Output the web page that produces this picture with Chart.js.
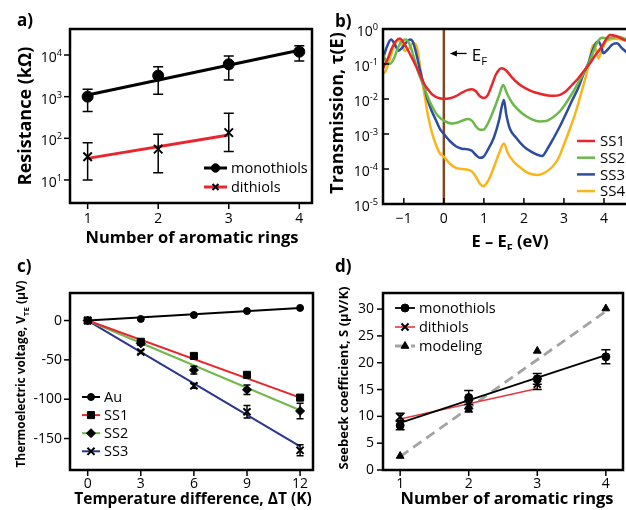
<!DOCTYPE html>
<html>
<head>
<meta charset="utf-8">
<script src="https://cdn.jsdelivr.net/npm/chart.js@4.4.1/dist/chart.umd.min.js"></script>
<style>
  html, body { margin: 0; padding: 0; background: #fff; }
  body { width: 626px; height: 510px; position: relative; overflow: hidden; }
  canvas { position: absolute; }
</style>
</head>
<body>
<canvas id="chartA" width="320" height="250" style="left:0;top:0"></canvas>
<canvas id="chartB" width="310" height="250" style="left:320px;top:0"></canvas>
<canvas id="chartC" width="320" height="260" style="left:0;top:250px"></canvas>
<canvas id="chartD" width="310" height="260" style="left:320px;top:250px"></canvas>
<script>
// ---- panel a: resistance vs number of aromatic rings ----
const ringsA = [1, 2, 3, 4];
const monoRes = [1000, 3200, 6000, 12000];
const monoResLo = [440, 1150, 2500, 7200];
const monoResHi = [1500, 5200, 9500, 16700];
const monoResFitX = [1, 4];
const monoResFit = [1100, 13000];
const diRingsA = [1, 2, 3];
const diRes = [36, 55, 137];
const diResLo = [10, 15, 48];
const diResHi = [78, 126, 400];
const diResFitX = [1, 3];
const diResFit = [33, 120];
const resTicks = [10, 100, 1000, 10000];

// ---- panel b: transmission curves (log10 of tau) ----
const ss1E = [-1.52,-1.4,-1.3,-1.2,-1.1,-1.0,-0.9,-0.8,-0.7,-0.6,-0.5,-0.4,-0.3,-0.2,-0.1,0,0.15,0.3,0.45,0.6,0.7,0.8,0.9,1.0,1.1,1.2,1.3,1.44,1.55,1.7,1.85,2.0,2.2,2.4,2.6,2.75,2.9,3.05,3.2,3.35,3.5,3.65,3.8,3.95,4.05,4.15,4.3,4.45,4.6];
const ss1Log = [-1.12,-0.85,-0.55,-0.35,-0.27,-0.4,-0.6,-0.82,-1.05,-1.3,-1.55,-1.72,-1.86,-1.94,-1.98,-2.0,-1.98,-1.92,-1.82,-1.74,-1.72,-1.78,-1.92,-1.97,-1.88,-1.6,-1.3,-1.12,-1.18,-1.38,-1.55,-1.67,-1.78,-1.85,-1.9,-1.91,-1.88,-1.78,-1.6,-1.42,-1.2,-0.98,-0.72,-0.5,-0.3,-0.17,-0.2,-0.28,-0.35];
const ss2E = [-1.52,-1.45,-1.35,-1.25,-1.15,-1.05,-0.95,-0.85,-0.75,-0.65,-0.55,-0.45,-0.35,-0.25,-0.15,-0.05,0.05,0.2,0.35,0.5,0.6,0.7,0.8,0.9,0.98,1.1,1.25,1.38,1.48,1.58,1.7,1.85,2.0,2.2,2.4,2.55,2.75,2.9,3.05,3.2,3.35,3.5,3.65,3.75,3.85,3.95,4.1,4.2,4.35,4.5,4.6];
const ss2Log = [-0.72,-0.9,-1.0,-0.85,-0.55,-0.35,-0.3,-0.45,-0.8,-1.2,-1.5,-1.8,-2.08,-2.3,-2.48,-2.58,-2.65,-2.7,-2.67,-2.6,-2.57,-2.62,-2.78,-2.88,-2.88,-2.7,-2.3,-1.9,-1.6,-1.85,-2.1,-2.3,-2.45,-2.58,-2.64,-2.63,-2.5,-2.35,-2.12,-1.85,-1.55,-1.24,-0.9,-0.6,-0.35,-0.25,-0.27,-0.24,-0.22,-0.27,-0.32];
const ss3E = [-1.52,-1.42,-1.32,-1.22,-1.14,-1.05,-0.95,-0.85,-0.78,-0.7,-0.6,-0.5,-0.4,-0.3,-0.2,-0.1,0,0.15,0.3,0.45,0.6,0.7,0.8,0.9,0.98,1.1,1.25,1.38,1.45,1.5,1.56,1.65,1.8,2.0,2.2,2.35,2.45,2.6,2.75,2.9,3.05,3.2,3.35,3.5,3.62,3.72,3.8,3.86,3.93,3.98,4.08,4.2,4.32,4.45,4.6];
const ss3Log = [-0.84,-0.5,-0.3,-0.45,-0.62,-0.55,-0.4,-0.3,-0.35,-0.65,-1.15,-1.6,-2.05,-2.35,-2.6,-2.85,-3.0,-3.2,-3.35,-3.42,-3.44,-3.48,-3.6,-3.68,-3.66,-3.45,-3.1,-2.6,-2.2,-2.03,-2.45,-2.85,-3.1,-3.36,-3.52,-3.6,-3.63,-3.4,-3.1,-2.78,-2.42,-2.05,-1.7,-1.25,-0.95,-0.6,-0.4,-0.36,-0.5,-0.69,-0.6,-0.45,-0.41,-0.55,-0.7];
const ss4E = [-1.52,-1.45,-1.35,-1.25,-1.14,-1.05,-0.97,-0.87,-0.78,-0.7,-0.64,-0.58,-0.5,-0.4,-0.3,-0.2,-0.1,0,0.15,0.3,0.45,0.6,0.7,0.8,0.9,0.98,1.1,1.25,1.38,1.5,1.6,1.75,1.9,2.05,2.2,2.35,2.5,2.7,2.86,3.0,3.15,3.3,3.45,3.57,3.65,3.73,3.8,3.86,3.95,4.05,4.15,4.3,4.45,4.6];
const ss4Log = [-1.27,-1.2,-0.85,-0.5,-0.31,-0.45,-0.63,-0.55,-0.4,-0.45,-0.7,-1.2,-1.75,-2.45,-2.95,-3.3,-3.55,-3.65,-3.85,-3.97,-4.0,-4.02,-4.07,-4.22,-4.42,-4.49,-4.35,-3.95,-3.55,-3.27,-3.55,-3.8,-3.95,-4.08,-4.15,-4.17,-4.12,-3.95,-3.7,-3.3,-2.85,-2.35,-1.75,-1.25,-0.8,-0.46,-0.6,-0.84,-0.6,-0.35,-0.3,-0.28,-0.3,-0.35];
const energyTicks = [-1, 0, 1, 2, 3, 4];
const transTicks = [1e-5, 1e-4, 1e-3, 1e-2, 1e-1, 1];
const fermiLineE = [0, 0];
const fermiLineT = [1e-5, 1];

// ---- panel c: thermoelectric voltage vs temperature difference ----
const dT = [0, 3, 6, 9, 12];
const vAu = [0, 2, 7, 12, 16];
const vSS1 = [0, -27, -45, -69, -98];
const vSS2 = [0, -29, -63, -88, -115];
const vSS3 = [0, -40, -83, -116, -165];
const errSS1 = [0, 2, 2, 2, 3];
const errSS2 = [0, 2, 5, 6, 10];
const errSS3 = [0, 2, 3, 8, 7];
const fitX = [0, 12];
const fitAu = [0, 16];
const fitSS1 = [0, -98];
const fitSS2 = [0, -114];
const fitSS3 = [0, -160];
const dTTicks = [0, 3, 6, 9, 12];
const voltTicks = [-150, -100, -50, 0];

// ---- panel d: Seebeck coefficient vs number of aromatic rings ----
const ringsD = [1, 2, 3, 4];
const seebMono = [8.3, 13.5, 17.0, 21.1];
const seebMonoErr = [0.8, 1.3, 1.0, 1.3];
const seebMonoFit = [8.8, 21.4];
const diRingsD = [1, 2, 3];
const seebDi = [9.9, 12.2, 16.0];
const seebDiErr = [0.7, 0.8, 1.0];
const seebDiFitX = [1, 3];
const seebDiFit = [9.5, 15.2];
const seebModel = [2.6, 11.2, 22.2, 30.1];
const seebModelFit = [2.5, 29.6];
const ringFitX = [1, 4];
const seebTicks = [0, 5, 10, 15, 20, 25, 30];

const FONT = "'Open Sans', sans-serif";
Chart.defaults.font.family = FONT;
Chart.defaults.color = '#000';
Chart.defaults.animation = false;

const pts = (xs, ys) => xs.map((x, i) => ({ x: x, y: ys[i] }));
const pow10 = arr => arr.map(v => Math.pow(10, v));

// text with sub/superscripts, drawn on the canvas
function drawRich(ctx, parts, x, y, size, weight, align, rot) {
  ctx.save();
  ctx.translate(x, y);
  if (rot) ctx.rotate(rot);
  const segs = parts.map(p => {
    const t = typeof p === 'string' ? p : p[0];
    const mode = typeof p === 'string' ? '' : p[1];
    const s = mode ? size * 0.66 : size;
    ctx.font = weight + ' ' + s + 'px ' + FONT;
    return { t: t, mode: mode, s: s, w: ctx.measureText(t).width };
  });
  const total = segs.reduce((a, g) => a + g.w, 0);
  let cx = align === 'left' ? 0 : align === 'right' ? -total : -total / 2;
  ctx.fillStyle = '#000';
  ctx.textAlign = 'left';
  ctx.textBaseline = 'alphabetic';
  segs.forEach(g => {
    ctx.font = weight + ' ' + g.s + 'px ' + FONT;
    const dy = g.mode === 'sub' ? size * 0.28 : g.mode === 'sup' ? -size * 0.42 : 0;
    ctx.fillText(g.t, cx, size * 0.36 + dy);
    cx += g.w;
  });
  ctx.restore();
}

// frame, ticks, error bars, legends and labels
const deco = {
  id: 'deco',
  afterDatasetsDraw(chart, args, o) {
    const ctx = chart.ctx, ca = chart.chartArea;
    const xs = chart.scales.x, ys = chart.scales.y;
    ctx.save();

    // error bars
    chart.data.datasets.forEach(ds => {
      if (!ds.errLo && !ds.err) return;
      ctx.strokeStyle = '#000';
      ctx.lineWidth = 1.5;
      ds.data.forEach((p, i) => {
        const lo = ds.errLo ? ds.errLo[i] : p.y - ds.err[i];
        const hi = ds.errHi ? ds.errHi[i] : p.y + ds.err[i];
        if (lo === hi) return;
        const px = xs.getPixelForValue(p.x);
        const y1 = ys.getPixelForValue(lo), y2 = ys.getPixelForValue(hi);
        const c = ds.capHalf || 4;
        ctx.beginPath();
        ctx.moveTo(px, y1); ctx.lineTo(px, y2);
        ctx.moveTo(px - c, y1); ctx.lineTo(px + c, y1);
        ctx.moveTo(px - c, y2); ctx.lineTo(px + c, y2);
        ctx.stroke();
      });
    });

    // frame
    ctx.strokeStyle = '#000';
    ctx.lineWidth = 2.5;
    ctx.strokeRect(ca.left, ca.top, ca.width, ca.height);

    // tick marks
    const dir = o.tickDir === 'in' ? -1 : 1;
    ctx.lineWidth = 1.5;
    xs.ticks.forEach(t => {
      const px = xs.getPixelForValue(t.value);
      ctx.beginPath(); ctx.moveTo(px, ca.bottom); ctx.lineTo(px, ca.bottom + dir * 6); ctx.stroke();
    });
    ys.ticks.forEach(t => {
      const py = ys.getPixelForValue(t.value);
      ctx.beginPath(); ctx.moveTo(ca.left, py); ctx.lineTo(ca.left - dir * 6, py); ctx.stroke();
    });

    // decade labels on log axes
    if (o.logY) {
      ys.ticks.forEach(t => {
        const py = ys.getPixelForValue(t.value);
        const ex = String(Math.round(Math.log10(t.value)));
        drawRich(ctx, ['10', [ex, 'sup']], ca.left - o.logPad, py + 2, 14, 'normal', 'right');
      });
    }

    // legend
    if (o.legend) {
      const L = o.legend;
      L.items.forEach((it, k) => {
        const yy = L.y + k * L.dy;
        const lds = chart.data.datasets[it[0]];
        const mds = it[1] != null ? chart.data.datasets[it[1]] : null;
        ctx.strokeStyle = lds.borderColor;
        ctx.lineWidth = lds.borderWidth;
        ctx.setLineDash(lds.borderDash || []);
        ctx.beginPath(); ctx.moveTo(L.x, yy); ctx.lineTo(L.x + L.len, yy); ctx.stroke();
        ctx.setLineDash([]);
        if (mds) {
          ctx.fillStyle = mds.backgroundColor;
          ctx.strokeStyle = mds.borderColor;
          ctx.lineWidth = mds.borderWidth;
          Chart.helpers.drawPoint(ctx, { pointStyle: mds.pointStyle, radius: L.mr || mds.pointRadius, borderWidth: mds.borderWidth, rotation: 0 }, L.x + L.len / 2, yy);
        }
        ctx.fillStyle = '#000';
        ctx.font = L.size + 'px ' + FONT;
        ctx.textAlign = 'left';
        ctx.textBaseline = 'middle';
        ctx.fillText((mds || lds).label, L.x + L.len + L.gap, yy + 1);
      });
    }

    // arrow note (E_F)
    if (o.note) {
      const n = o.note;
      const x1 = xs.getPixelForValue(n.x1), x2 = xs.getPixelForValue(n.x2), py = ys.getPixelForValue(n.y);
      ctx.strokeStyle = '#000'; ctx.fillStyle = '#000'; ctx.lineWidth = 1.3;
      ctx.beginPath(); ctx.moveTo(x1, py); ctx.lineTo(x2 + 4, py); ctx.stroke();
      ctx.beginPath(); ctx.moveTo(x2, py); ctx.lineTo(x2 + 7, py - 3); ctx.lineTo(x2 + 7, py + 3); ctx.closePath(); ctx.fill();
      drawRich(ctx, n.parts, xs.getPixelForValue(n.tx), py + 1, 17, 'normal', 'left');
    }

    // titles and panel letter
    (o.titles || []).forEach(t => drawRich(ctx, t.parts, t.x, t.y, t.size, t.weight || 'bold', t.align || 'center', t.rot));
    ctx.restore();
  }
};

function scaleCfg(type, min, max, tickValues, fitSize, horizontal, pad, showTicks) {
  return {
    type: type, min: min, max: max,
    afterBuildTicks: s => { s.ticks = tickValues.map(v => ({ value: v })); },
    afterFit: s => { if (horizontal) s.height = fitSize; else s.width = fitSize; },
    grid: { display: false, drawTicks: false },
    border: { display: false },
    ticks: { display: showTicks !== false, autoSkip: false, maxRotation: 0, font: { size: 14 }, padding: pad, color: '#000' }
  };
}

function fitLine(xs, ys, color, width, dash) {
  return { data: pts(xs, ys), showLine: true, borderColor: color, borderWidth: width, borderDash: dash || [],
    pointRadius: 0, pointHoverRadius: 0, order: 2 };
}

function markers(label, xs, ys, style, radius, extra) {
  return Object.assign({ label: label, data: pts(xs, ys), showLine: false, pointStyle: style,
    pointRadius: radius, pointHoverRadius: radius, backgroundColor: '#000', borderColor: '#000',
    borderWidth: style.indexOf('cross') === 0 ? 2 : 1, order: 1 }, extra);
}

function baseOptions(padding, decoOpts, scales) {
  return {
    responsive: false,
    events: [],
    layout: { padding: padding },
    plugins: { legend: { display: false }, tooltip: { enabled: false }, deco: decoOpts },
    scales: scales
  };
}

const RED = '#e8262b', GREEN = '#6cb84a', BLUE = '#2d4c9f', YELLOW = '#f8b51c';

// panel a
new Chart(document.getElementById('chartA'), {
  type: 'scatter',
  data: { datasets: [
    markers('monothiols', ringsA, monoRes, 'circle', 5.5, { errLo: monoResLo, errHi: monoResHi, capHalf: 5 }),
    markers('dithiols', diRingsA, diRes, 'crossRot', 6, { errLo: diResLo, errHi: diResHi, capHalf: 5 }),
    fitLine(monoResFitX, monoResFit, '#000', 3),
    fitLine(diResFitX, diResFit, RED, 3)
  ] },
  options: baseOptions({ top: 29, right: 7, left: 0, bottom: 0 }, {
    tickDir: 'out', logY: true, logPad: 8,
    legend: { x: 204, y: 168, dy: 19, len: 23, gap: 4, size: 14.5, mr: 4.2, items: [[2, 0], [3, 1]] },
    titles: [
      { parts: ['a)'], x: 17, y: 20, size: 17, align: 'left' },
      { parts: ['Number of aromatic rings'], x: 192, y: 237, size: 16.5 },
      { parts: ['Resistance (kΩ)'], x: 25, y: 116, size: 18, rot: -Math.PI / 2 }
    ]
  }, {
    x: scaleCfg('linear', 0.75, 4.18, ringsA, 47, true, 8),
    y: scaleCfg('logarithmic', 2.8, 42100, resTicks, 70, false, 7, false)
  }),
  plugins: [deco]
});

// panel b
new Chart(document.getElementById('chartB'), {
  type: 'scatter',
  data: { datasets: [
    { label: 'SS1', data: pts(ss1E, pow10(ss1Log)), showLine: true, borderColor: RED, borderWidth: 2.5, pointRadius: 0, cubicInterpolationMode: 'monotone' },
    { label: 'SS2', data: pts(ss2E, pow10(ss2Log)), showLine: true, borderColor: GREEN, borderWidth: 2.5, pointRadius: 0, cubicInterpolationMode: 'monotone' },
    { label: 'SS3', data: pts(ss3E, pow10(ss3Log)), showLine: true, borderColor: BLUE, borderWidth: 2.5, pointRadius: 0, cubicInterpolationMode: 'monotone' },
    { label: 'SS4', data: pts(ss4E, pow10(ss4Log)), showLine: true, borderColor: YELLOW, borderWidth: 2.5, pointRadius: 0, cubicInterpolationMode: 'monotone' },
    { label: 'EF', data: pts(fermiLineE, fermiLineT), showLine: true, borderColor: '#7a4a22', borderWidth: 2.5, pointRadius: 0 }
  ] },
  options: baseOptions({ top: 29, right: 2, left: 0, bottom: 0 }, {
    tickDir: 'in', logY: true, logPad: 5,
    legend: { x: 257, y: 141, dy: 16.7, len: 18, gap: 5, size: 15, items: [[0], [1], [2], [3]] },
    note: { x1: 0.57, x2: 0.15, y: 0.2, tx: 0.7, parts: ['E', ['F', 'sub']] },
    titles: [
      { parts: ['b)'], x: 15, y: 21, size: 17, align: 'left' },
      { parts: ['E – E', ['F', 'sub'], ' (eV)'], x: 190, y: 241, size: 16.5 },
      { parts: ['Transmission, τ(E)'], x: 17, y: 113, size: 18, rot: -Math.PI / 2 }
    ]
  }, {
    x: Object.assign(scaleCfg('linear', -1.52, 4.6, energyTicks, 46, true, 7),
      { ticks: { autoSkip: false, maxRotation: 0, font: { size: 14 }, padding: 7, color: '#000',
        callback: v => String(v).replace('-', '\u2212') } }),
    y: scaleCfg('logarithmic', 1e-5, 1, transTicks, 63, false, 5, false)
  }),
  plugins: [deco]
});

// panel c
new Chart(document.getElementById('chartC'), {
  type: 'scatter',
  data: { datasets: [
    markers('Au', dT, vAu, 'circle', 3.5),
    markers('SS1', dT, vSS1, 'rect', 5, { err: errSS1, capHalf: 3.5 }),
    markers('SS2', dT, vSS2, 'rectRot', 4.5, { err: errSS2, capHalf: 3.5 }),
    markers('SS3', dT, vSS3, 'crossRot', 5, { err: errSS3, capHalf: 3.5 }),
    fitLine(fitX, fitAu, '#000', 2),
    fitLine(fitX, fitSS1, RED, 2),
    fitLine(fitX, fitSS2, '#72b84b', 2),
    fitLine(fitX, fitSS3, '#2b3590', 2)
  ] },
  options: baseOptions({ top: 43, right: 7, left: 0, bottom: 0 }, {
    tickDir: 'out',
    legend: { x: 82, y: 147, dy: 18.1, len: 18, gap: 4, size: 14.5, items: [[4, 0], [5, 1], [6, 2], [7, 3]] },
    titles: [
      { parts: ['c)'], x: 17, y: 16, size: 17, align: 'left' },
      { parts: ['Temperature difference, ΔT (K)'], x: 193, y: 248, size: 15.5 },
      { parts: ['Thermoelectric voltage, V', ['TE', 'sub'], ' (μV)'], x: 21, y: 124, size: 11.9, rot: -Math.PI / 2 }
    ]
  }, {
    x: scaleCfg('linear', -1, 12.73, dTTicks, 40, true, 6),
    y: scaleCfg('linear', -190, 35, voltTicks, 70, false, 8)
  }),
  plugins: [deco]
});

// panel d
new Chart(document.getElementById('chartD'), {
  type: 'scatter',
  data: { datasets: [
    markers('monothiols', ringsD, seebMono, 'circle', 4, { err: seebMonoErr, capHalf: 4.5 }),
    markers('dithiols', diRingsD, seebDi, 'crossRot', 5, { err: seebDiErr, capHalf: 4.5 }),
    markers('modeling', ringsD, seebModel, 'triangle', 4.5),
    fitLine(ringFitX, seebMonoFit, '#000', 1.8),
    fitLine(seebDiFitX, seebDiFit, '#e8383d', 1.6),
    fitLine(ringFitX, seebModelFit, '#a3a3a3', 2.8, [10, 6])
  ] },
  options: baseOptions({ top: 43, right: 2, left: 0, bottom: 0 }, {
    tickDir: 'out',
    legend: { x: 75, y: 58, dy: 19, len: 20, gap: 4, size: 14.5, items: [[3, 0], [4, 1], [5, 2]] },
    titles: [
      { parts: ['d)'], x: 15, y: 16, size: 17, align: 'left' },
      { parts: ['Number of aromatic rings'], x: 187, y: 248, size: 16.5 },
      { parts: ['Seebeck coefficient, S (μV/K)'], x: 23, y: 128, size: 13, rot: -Math.PI / 2 }
    ]
  }, {
    x: scaleCfg('linear', 0.75, 4.25, ringsD, 40, true, 6),
    y: scaleCfg('linear', 0, 33, seebTicks, 63, false, 9)
  }),
  plugins: [deco]
});
</script>
</body>
</html>
